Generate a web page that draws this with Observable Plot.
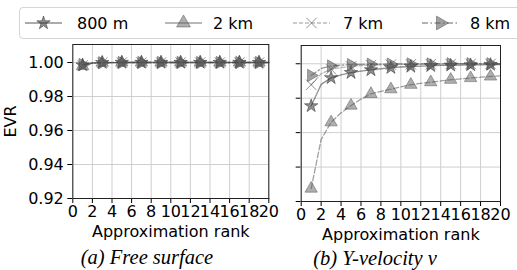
<!DOCTYPE html>
<html><head><meta charset="utf-8">
<script src="https://cdn.jsdelivr.net/npm/d3@7"></script>
<script src="https://cdn.jsdelivr.net/npm/@observablehq/plot@0.6"></script>
<style>
body{margin:0;background:#fff;}
#root{position:relative;width:517px;height:270px;overflow:hidden;font-family:"DejaVu Sans",sans-serif;background:#fff;}
.abs{position:absolute;}
.cap{position:absolute;font-family:"Liberation Serif","Times New Roman",serif;font-style:italic;font-size:20.5px;white-space:nowrap;transform:translateX(-50%);line-height:1;color:#000;}
</style></head><body><div id="root"></div>
<script>
// ---------------- data ----------------
const ranks = [1,2,3,4,5,6,7,8,9,10,11,12,13,14,15,16,17,18,19,20];
const seriesNames = ["800 m", "2 km", "7 km", "8 km"];
const xTicks = [0,2,4,6,8,10,12,14,16,18,20];
const yTicks = [0.92, 0.94, 0.96, 0.98, 1.00];
const panelTitles = ["(a) Free surface", "(b) Y-velocity v"];

// (a) Free surface
const surf800m = [0.9985,0.9997,0.9999,0.9999,1.0000,1.0000,1.0000,1.0000,1.0000,1.0000,1.0000,1.0000,1.0000,1.0000,1.0000,1.0000,1.0000,1.0000,1.0000,1.0000];
const surf2km  = [0.9980,0.9996,0.9999,0.9999,1.0000,1.0000,1.0000,1.0000,1.0000,1.0000,1.0000,1.0000,1.0000,1.0000,1.0000,1.0000,1.0000,1.0000,1.0000,1.0000];
const surf7km  = [0.9983,0.9997,0.9999,0.9999,1.0000,1.0000,1.0000,1.0000,1.0000,1.0000,1.0000,1.0000,1.0000,1.0000,1.0000,1.0000,1.0000,1.0000,1.0000,1.0000];
const surf8km  = [0.9988,0.9998,0.9999,1.0000,1.0000,1.0000,1.0000,1.0000,1.0000,1.0000,1.0000,1.0000,1.0000,1.0000,1.0000,1.0000,1.0000,1.0000,1.0000,1.0000];

// (b) Y-velocity v
const vel800m = [0.9755,0.9880,0.9918,0.9935,0.9948,0.9957,0.9964,0.9971,0.9977,0.9981,0.9984,0.9986,0.9988,0.9990,0.9991,0.9992,0.9993,0.9994,0.9995,0.9995];
const vel2km  = [0.9275,0.9560,0.9660,0.9715,0.9757,0.9795,0.9825,0.9840,0.9852,0.9866,0.9878,0.9886,0.9893,0.9900,0.9907,0.9912,0.9917,0.9922,0.9926,0.9930];
const vel7km  = [0.9878,0.9942,0.9968,0.9978,0.9985,0.9989,0.9992,0.9994,0.9995,0.9996,0.9997,0.9997,0.9998,0.9998,0.9998,0.9999,0.9999,0.9999,0.9999,0.9999];
const vel8km  = [0.9932,0.9972,0.9987,0.9992,0.9995,0.9996,0.9997,0.9998,0.9998,0.9999,0.9999,0.9999,0.9999,0.9999,1.0000,1.0000,1.0000,1.0000,1.0000,1.0000];

// ---------------- styles ----------------
const rightTriangle = {
  draw(context, size) {
    const y = -Math.sqrt(size / (Math.sqrt(3) * 3));
    context.moveTo(-y * 2, 0);
    context.lineTo(y, -Math.sqrt(3) * y);
    context.lineTo(y, Math.sqrt(3) * y);
    context.closePath();
  }
};
const styles = {
  "800 m": {line: {stroke: "#222", strokeOpacity: 0.5, strokeWidth: 1.3},
            dot: {symbol: "star", r: 4.2, fill: "#222", fillOpacity: 0.5, stroke: "#222", strokeOpacity: 0.6, strokeWidth: 0.8}},
  "2 km":  {line: {stroke: "#444", strokeOpacity: 0.5, strokeWidth: 1.3, strokeDasharray: "5.5,2.4"},
            dot: {symbol: "triangle", r: 4.6, fill: "#606060", fillOpacity: 0.5, stroke: "#444", strokeOpacity: 0.55, strokeWidth: 0.8}},
  "7 km":  {line: {stroke: "#666", strokeOpacity: 0.45, strokeWidth: 1.3, strokeDasharray: "4,2"},
            dot: {symbol: "times", r: 4.8, stroke: "#777", strokeOpacity: 0.8, strokeWidth: 1}},
  "8 km":  {line: {stroke: "#333", strokeOpacity: 0.5, strokeWidth: 1.3, strokeDasharray: "6,2.5,1.5,2.5"},
            dot: {symbol: rightTriangle, r: 4.6, fill: "#555", fillOpacity: 0.55, stroke: "#444", strokeOpacity: 0.55, strokeWidth: 0.8}}
};

function rows(arrs) {
  return seriesNames.map((s, i) => ranks.map((r, j) => ({series: s, rank: r, value: arrs[i][j]})));
}

function panel(arrs, o) {
  const groups = rows(arrs);
  const marks = [
    Plot.gridX(xTicks, {stroke: "#cfcfcf", strokeOpacity: 1, strokeWidth: 1}),
    Plot.gridY(yTicks, {stroke: "#cfcfcf", strokeOpacity: 1, strokeWidth: 1}),
  ];
  groups.forEach((g, i) => {
    const st = styles[seriesNames[i]];
    marks.push(Plot.line(g, {x: "rank", y: "value", ...st.line}));
    marks.push(Plot.dot(g.filter(d => d.rank % 2 === 1), {x: "rank", y: "value", ...st.dot}));
  });
  marks.push(Plot.frame({stroke: "#222", strokeWidth: 1}));
  return Plot.plot({
    width: o.width, height: o.height,
    marginLeft: o.marginLeft, marginRight: o.marginRight, marginTop: o.marginTop, marginBottom: o.marginBottom,
    style: {fontFamily: "DejaVu Sans", fontSize: "16px", color: "#000", background: "transparent", overflow: "visible"},
    x: {domain: [0, 20], ticks: xTicks, tickSize: 5, tickPadding: 2, tickFormat: d3.format("d"),
        label: "Approximation rank", labelAnchor: "center", labelArrow: "none", labelOffset: 38},
    y: {domain: [0.92, 1.0106], ticks: yTicks, tickSize: 5, tickPadding: 4,
        tickFormat: o.showY ? d3.format(".2f") : () => "",
        label: o.showY ? "EVR" : null, labelAnchor: "center", labelArrow: "none", labelOffset: 68},
    marks
  });
}

const root = document.getElementById("root");

// legend (HTML box + small svg handles)
const legend = document.createElement("div");
legend.className = "abs";
Object.assign(legend.style, {left: "19px", top: "7px", width: "510px", height: "32px", border: "1px solid #d6d6d6", borderRadius: "4px", boxSizing: "border-box"});
root.appendChild(legend);
const legendX = [25, 165, 293, 422];
const legendLabelX = [77, 213, 343, 470];
const legendDash = {"800 m": null, "2 km": null, "7 km": "4,2", "8 km": "6,2.5,1.5,2.5"};
const ls = d3.create("svg").attr("width", 517).attr("height", 45)
  .style("position", "absolute").style("left", "0px").style("top", "0px");
seriesNames.forEach((s, i) => {
  const st = styles[s];
  const x0 = legendX[i], x1 = x0 + 37, cy = 23;
  ls.append("line").attr("x1", x0).attr("x2", x1).attr("y1", cy).attr("y2", cy)
    .attr("stroke", st.line.stroke).attr("stroke-opacity", st.line.strokeOpacity).attr("stroke-width", 1.5)
    .attr("stroke-dasharray", legendDash[s]);
  const sym = st.dot.symbol === "star" ? d3.symbolStar : st.dot.symbol === "triangle" ? d3.symbolTriangle : st.dot.symbol === "times" ? d3.symbolTimes : rightTriangle;
  const size = Math.PI * st.dot.r * st.dot.r * (s === "2 km" || s === "8 km" ? 1.25 : 1);
  ls.append("path").attr("d", d3.symbol(sym, size)()).attr("transform", `translate(${(x0 + x1) / 2},${cy})`)
    .attr("fill", st.dot.fill || "none").attr("fill-opacity", st.dot.fillOpacity || 0)
    .attr("stroke", st.dot.stroke).attr("stroke-opacity", st.dot.strokeOpacity).attr("stroke-width", st.dot.strokeWidth);
  ls.append("text").attr("x", legendLabelX[i]).attr("y", cy).attr("dy", "0.36em")
    .attr("font-family", "DejaVu Sans").attr("font-size", 16).text(s);
});
root.appendChild(ls.node());

// panels
const left = panel([surf800m, surf2km, surf7km, surf8km],
  {width: 280, height: 215, marginLeft: 72.3, marginRight: 11.7, marginTop: 14, marginBottom: 47, showY: true});
left.style.position = "absolute"; left.style.left = "0px"; left.style.top = "30px";
root.appendChild(left);

const right = panel([vel800m, vel2km, vel7km, vel8km],
  {width: 237, height: 215, marginLeft: 20.7, marginRight: 17, marginTop: 15, marginBottom: 44, showY: false});
right.style.position = "absolute"; right.style.left = "280px"; right.style.top = "30px";
root.appendChild(right);

// captions
const capX = [147, 375];
panelTitles.forEach((t, i) => {
  const c = document.createElement("div");
  c.className = "cap";
  c.textContent = t;
  c.style.left = capX[i] + "px";
  c.style.top = (i === 0 ? 247 : 248) + "px";
  root.appendChild(c);
});
</script></body></html>
